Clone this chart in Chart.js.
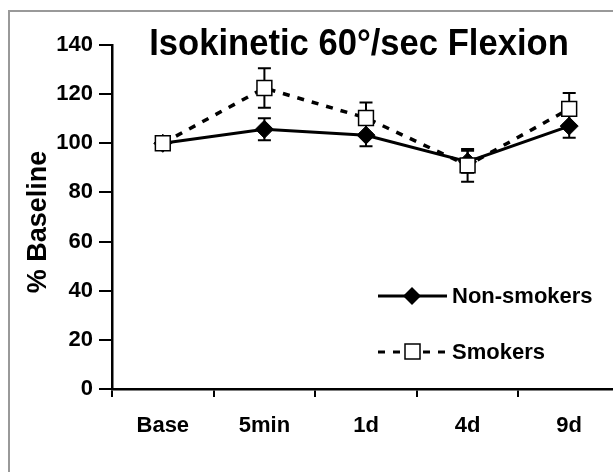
<!DOCTYPE html>
<html>
<head>
<meta charset="utf-8">
<script src="https://cdn.jsdelivr.net/npm/chart.js@4"></script>
<style>
  html, body { margin: 0; padding: 0; background: #fff; overflow: hidden; }
  #frame { position: absolute; left: 8px; top: 10px; width: 700px; height: 600px;
           border-left: 2px solid #999; border-top: 2px solid #999; }
  #wrap { position: absolute; left: 0; top: 0; width: 640px; height: 472px; }
</style>
</head>
<body>
<div id="frame"></div>
<div id="wrap"><canvas id="chart" width="640" height="472"></canvas></div>
<script>
const labels = ["Base", "5min", "1d", "4d", "9d"];
const nonSmokers = [100, 105.7, 103.3, 92.5, 107];
const nonSmokersErr = [0, 4.5, 4.5, 4.5, 4.7];
const smokers = [100, 122.5, 110.3, 91, 114];
const smokersErr = [0, 8, 6.3, 6.7, 6.5];
const yTicks = [0, 20, 40, 60, 80, 100, 120, 140];

const FONT = "'Liberation Sans', Arial, sans-serif";

// error bars drawn behind the markers
const errorBars = {
  id: "errorBars",
  beforeDatasetsDraw(chart) {
    const ctx = chart.ctx;
    const y = chart.scales.y;
    chart.data.datasets.forEach((ds, i) => {
      const meta = chart.getDatasetMeta(i);
      ctx.save();
      ctx.strokeStyle = "#000";
      ctx.lineWidth = 2;
      meta.data.forEach((pt, j) => {
        const err = ds.errors[j];
        if (!err) return;
        const top = y.getPixelForValue(ds.data[j] + err);
        const bot = y.getPixelForValue(ds.data[j] - err);
        ctx.beginPath();
        ctx.moveTo(pt.x, top); ctx.lineTo(pt.x, bot);
        ctx.moveTo(pt.x - 6.5, top); ctx.lineTo(pt.x + 6.5, top);
        ctx.moveTo(pt.x - 6.5, bot); ctx.lineTo(pt.x + 6.5, bot);
        ctx.stroke();
      });
      ctx.restore();
    });
  }
};

// title, y title and legend drawn by hand
const overlay = {
  id: "overlay",
  afterDraw(chart) {
    const ctx = chart.ctx;
    ctx.save();
    ctx.fillStyle = "#000";
    ctx.textBaseline = "alphabetic";
    ctx.textAlign = "center";
    ctx.font = "bold 37px " + FONT;
    ctx.translate(359, 55);
    ctx.scale(0.935, 1);
    ctx.fillText("Isokinetic 60°/sec Flexion", 0, 0);
    ctx.restore();

    ctx.save();
    ctx.fillStyle = "#000";
    ctx.font = "bold 27px " + FONT;
    ctx.textAlign = "center";
    ctx.textBaseline = "middle";
    ctx.translate(39, 222);
    ctx.rotate(-Math.PI / 2);
    ctx.fillText("% Baseline", 0, 0);
    ctx.restore();

    ctx.save();
    ctx.strokeStyle = "#000";
    ctx.lineWidth = 3;
    // non-smokers
    ctx.beginPath();
    ctx.moveTo(378, 296); ctx.lineTo(447, 296);
    ctx.stroke();
    ctx.beginPath();
    ctx.moveTo(412 - 9, 296); ctx.lineTo(412, 287); ctx.lineTo(412 + 9, 296); ctx.lineTo(412, 305);
    ctx.closePath();
    ctx.fillStyle = "#000";
    ctx.fill();
    // smokers
    ctx.setLineDash([7, 8]);
    ctx.beginPath();
    ctx.moveTo(378, 352); ctx.lineTo(447, 352);
    ctx.stroke();
    ctx.setLineDash([]);
    ctx.fillStyle = "#fff";
    ctx.lineWidth = 1.5;
    ctx.fillRect(405, 344, 15, 15);
    ctx.strokeRect(405, 344, 15, 15);

    ctx.fillStyle = "#000";
    ctx.font = "bold 22px " + FONT;
    ctx.textAlign = "left";
    ctx.textBaseline = "middle";
    ctx.fillText("Non-smokers", 452, 297);
    ctx.fillText("Smokers", 452, 353);
    ctx.restore();
  }
};

new Chart(document.getElementById("chart"), {
  type: "line",
  data: {
    labels,
    datasets: [
      {
        label: "Non-smokers",
        data: nonSmokers,
        errors: nonSmokersErr,
        order: 1,
        borderColor: "#000",
        borderWidth: 3,
        pointStyle: "rectRot",
        pointRadius: 9,
        pointBackgroundColor: "#000",
        pointBorderColor: "#000",
        pointBorderWidth: 1,
        tension: 0
      },
      {
        label: "Smokers",
        data: smokers,
        errors: smokersErr,
        order: 0,
        borderColor: "#000",
        borderWidth: 3.5,
        borderDash: [7, 8],
        pointStyle: "rect",
        pointRadius: 10.5,
        pointBackgroundColor: "#fff",
        pointBorderColor: "#000",
        pointBorderWidth: 1.5,
        tension: 0
      }
    ]
  },
  options: {
    responsive: false,
    animation: false,
    layout: { padding: { left: 0, top: 45, right: 20, bottom: 0 } },
    plugins: { legend: { display: false }, tooltip: { enabled: false } },
    scales: {
      x: {
        offset: true,
        grid: { offset: true, drawOnChartArea: false, color: "#000", lineWidth: 2, tickLength: 8 },
        border: { color: "#000", width: 2.5 },
        ticks: { color: "#000", font: { family: FONT, size: 22, weight: "bold" }, padding: 16, maxRotation: 0 },
        afterFit(scale) { scale.height = 83; }
      },
      y: {
        min: 0,
        max: 140,
        afterBuildTicks(scale) { scale.ticks = yTicks.map(v => ({ value: v })); },
        grid: { drawOnChartArea: false, color: "#000", lineWidth: 2, tickLength: 13 },
        border: { color: "#000", width: 2.5 },
        ticks: { color: "#000", font: { family: FONT, size: 22, weight: "bold" }, padding: 6 },
        afterFit(scale) { scale.width = 112; }
      }
    }
  },
  plugins: [errorBars, overlay]
});
</script>
</body>
</html>
